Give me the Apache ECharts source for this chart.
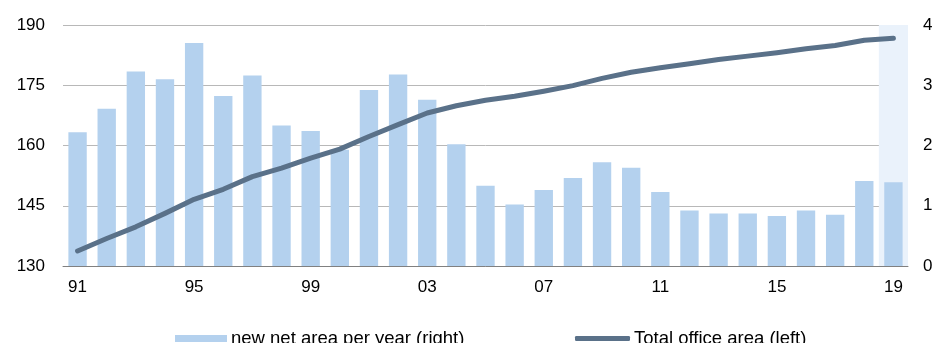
<!DOCTYPE html>
<html>
<head>
<meta charset="utf-8">
<script src="https://cdn.jsdelivr.net/npm/echarts@6/dist/echarts.min.js"></script>
<style>html,body{margin:0;padding:0;background:#fff;}#c{width:949px;height:343px;}</style>
</head>
<body>
<div id="c"></div>
<script>
const years = ['91','92','93','94','95','96','97','98','99','00','01','02','03','04','05','06','07','08','09','10','11','12','13','14','15','16','17','18','19'];
const newNetArea = [2.22,2.61,3.23,3.10,3.70,2.82,3.16,2.33,2.24,1.93,2.92,3.18,2.76,2.02,1.33,1.02,1.26,1.46,1.72,1.63,1.23,0.92,0.87,0.87,0.83,0.92,0.85,1.41,1.39];
const totalOfficeArea = [133.75,136.85,139.75,143.1,146.6,149.1,152.25,154.35,156.85,159.1,162.25,165.2,168.1,169.9,171.25,172.25,173.5,174.9,176.7,178.25,179.35,180.35,181.4,182.25,183.1,184.1,184.9,186.2,186.7];
const leftTicks = [130,145,160,175,190];
const rightTicks = [0,1,2,3,4];
const highlightYears = ['19'];
const seriesNames = ['new net area per year (right)','Total office area (left)'];

const rightMax = rightTicks[rightTicks.length-1];
const highlightData = years.map(y => highlightYears.includes(y) ? rightMax : null);

const font = 'Liberation Sans, Arial, sans-serif';
const legendText = { fontFamily: font, fontSize: 18.5, color: '#000', padding: [0,0,0,-1] };
const chart = echarts.init(document.getElementById('c'));
chart.setOption({
  animation: false,
  backgroundColor: '#fff',
  textStyle: { fontFamily: font },
  grid: { left: 63, right: 41, top: 25, bottom: 77, containLabel: false },
  legend: [
    {
      left: 175, top: 329, padding: 0,
      textStyle: legendText,
      data: [{ name: seriesNames[0], icon: 'rect' }],
      itemWidth: 52, itemHeight: 7
    },
    {
      left: 575, top: 329, padding: 0,
      textStyle: legendText,
      data: [{ name: seriesNames[1], icon: 'roundRect' }],
      itemWidth: 55, itemHeight: 5
    }
  ],
  xAxis: [
    {
      type: 'category', data: years,
      axisLine: { show: true, lineStyle: { color: '#808080', width: 1 } },
      axisTick: { show: false },
      axisLabel: { interval: 3, color: '#000', fontSize: 17, fontFamily: font, margin: 13 }
    },
    {
      type: 'category', data: years, show: false, gridIndex: 0
    }
  ],
  yAxis: [
    {
      type: 'value', min: leftTicks[0], max: leftTicks[leftTicks.length-1], interval: leftTicks[1]-leftTicks[0],
      axisLine: { show: false }, axisTick: { show: false },
      splitLine: { lineStyle: { color: '#b8b8b8', width: 1 } },
      axisLabel: { color: '#000', fontSize: 17, fontFamily: font, margin: 18 }
    },
    {
      type: 'value', min: rightTicks[0], max: rightMax, interval: rightTicks[1]-rightTicks[0],
      position: 'right',
      axisLine: { show: false }, axisTick: { show: false },
      splitLine: { show: false },
      axisLabel: { color: '#000', fontSize: 17, fontFamily: font, margin: 15 }
    }
  ],
  series: [
    {
      name: 'highlight', type: 'bar', xAxisIndex: 1, yAxisIndex: 1,
      data: highlightData, barWidth: '100%', silent: true, z: 0,
      itemStyle: { color: '#eaf2fb' }
    },
    {
      name: seriesNames[0], type: 'bar', xAxisIndex: 0, yAxisIndex: 1,
      data: newNetArea, barWidth: '63%', z: 2,
      itemStyle: { color: '#b4d1ee' }
    },
    {
      name: seriesNames[1], type: 'line', xAxisIndex: 0, yAxisIndex: 0,
      data: totalOfficeArea, symbol: 'none', z: 3,
      lineStyle: { color: '#5a7189', width: 5, cap: 'round', join: 'round' },
      itemStyle: { color: '#5a7189' }
    }
  ]
});
</script>
</body>
</html>
